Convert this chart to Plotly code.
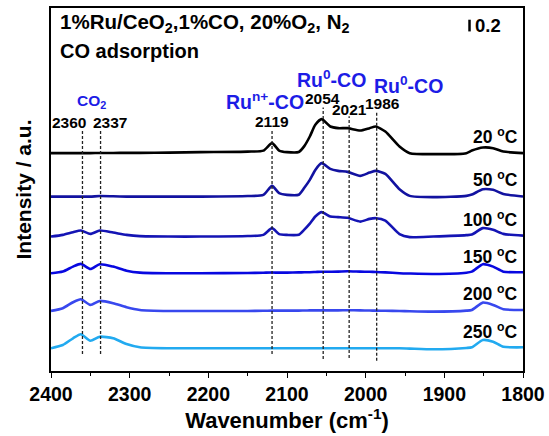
import plotly.graph_objects as go

# ---------------- data ----------------
wavenumber = [2400, 2385, 2372, 2362, 2350, 2338, 2321, 2304, 2287, 2250, 2210, 2150,
              2130, 2119, 2110, 2100, 2085, 2078, 2071, 2064, 2056, 2045, 2035, 2023, 2007,
              1995, 1987, 1975, 1957, 1944, 1914, 1872, 1865, 1851, 1838, 1825, 1800]

temps = ["20", "50", "100", "150", "200", "250"]
offsets = [3.721, 2.979, 2.296, 1.670, 1.026, 0.388]

abs_20 = [0, 0, 0, 0, 0, 0.003, 0.003, 0.005, 0.005, 0.009, 0.017, 0.026,
          0.043, 0.171, 0.044, 0.017, 0.02, 0.12, 0.284, 0.484, 0.581, 0.455, 0.427, 0.427, 0.386,
          0.427, 0.455, 0.369, 0.113, 0, -0.017, 0, 0.044, 0.096, 0.085, 0.027, 0]
abs_50 = [0, 0, 0, 0, 0, 0.009, 0.005, 0, 0, 0, 0, 0.009,
          0.029, 0.183, 0.058, 0.029, 0.032, 0.15, 0.285, 0.456, 0.571, 0.473, 0.439, 0.422, 0.354,
          0.41, 0.439, 0.388, 0.126, 0.012, -0.01, 0.012, 0.034, 0.126, 0.115, 0.046, 0]
abs_100 = [0, 0.029, 0.075, 0.103, 0.046, 0.103, 0.068, 0.029, 0.007, 0, 0, 0.009,
           0.029, 0.144, 0.041, 0.029, 0.032, 0.12, 0.222, 0.342, 0.417, 0.342, 0.332, 0.32, 0.256,
           0.302, 0.314, 0.273, 0.043, -0.01, 0, 0.024, 0.034, 0.144, 0.115, 0.046, 0.017]
abs_150 = [0, 0.029, 0.113, 0.159, 0.073, 0.154, 0.113, 0.044, 0.01, 0, 0, 0.005,
           0.009, 0.012, 0.01, 0.01, 0.014, 0.016, 0.017, 0.021, 0.026, 0.026, 0.027, 0.034, 0.027,
           0.024, 0.021, 0.014, 0, -0.005, -0.012, 0.009, 0.027, 0.154, 0.113, 0.027, 0.017]
abs_200 = [0, 0.046, 0.149, 0.2, 0.103, 0.171, 0.132, 0.063, 0.017, 0, 0, 0,
           0.003, 0.005, 0.005, 0.005, 0.005, 0.007, 0.009, 0.009, 0.01, 0.01, 0.01, 0.012, 0.009,
           0.007, 0.005, 0.003, 0, -0.005, -0.012, 0.005, 0.017, 0.142, 0.103, 0.029, 0.017]
abs_250 = [0, 0.056, 0.171, 0.239, 0.13, 0.198, 0.171, 0.073, 0.017, 0, 0, 0,
           0, 0, 0, 0, 0, 0, 0, 0, 0, 0, 0, 0, 0,
           0, 0, 0, 0, -0.005, -0.017, 0.005, 0.017, 0.142, 0.113, 0.027, 0.017]
spectra = [abs_20, abs_50, abs_100, abs_150, abs_200, abs_250]

peak_positions = [2360, 2337, 2119, 2054, 2021, 1986]
peak_labels = ["2360", "2337", "2119", "2054", "2021", "1986"]
scale_bar = 0.2
x_ticks = [2400, 2300, 2200, 2100, 2000, 1900, 1800]

# ---------------- styling ----------------
colors = ["#000000", "#1212A0", "#1414B4", "#0808E0", "#3848EE", "#22AAF0"]
FONT = "Liberation Sans, Arial, sans-serif"
BLUE = "#1C1CE6"

fig = go.Figure()
for t, off, sp, c in zip(temps, offsets, spectra, colors):
    fig.add_trace(go.Scatter(
        x=wavenumber, y=[off + v for v in sp], mode="lines",
        line=dict(color=c, width=2.6, shape="spline", smoothing=0.6),
        showlegend=False, hoverinfo="skip"))

# dashed guide lines (top, bottom in a.u.)
dash_ext = {2360: (4.12, 0.29), 2337: (4.12, 0.29), 2119: (4.12, 0.29),
            2054: (4.50, 0.205), 2021: (4.35, 0.22), 1986: (4.43, 0.176)}
for p in peak_positions:
    y1, y0 = dash_ext[p]
    fig.add_shape(type="line", xref="x", yref="y", x0=p, x1=p, y0=y0, y1=y1,
                  line=dict(color="#222222", width=1.3, dash="3px,2px"))

# peak number labels
lab_pos = {"2360": (2377, 4.25), "2337": (2325, 4.25), "2119": (2119, 4.26),
           "2054": (2055, 4.655), "2021": (2020, 4.474), "1986": (1978, 4.57)}
for lab in peak_labels:
    x, y = lab_pos[lab]
    fig.add_annotation(x=x, y=y, xref="x", yref="y", text=lab, showarrow=False,
                       font=dict(family=FONT, size=15.5, color="black", weight="bold"),
                       xanchor="center", yanchor="middle")

# blue species labels
blue_labels = [("CO<sub>2</sub>", 2348, 4.60, 15.5),
               ("Ru<sup>n+</sup>-CO", 2128, 4.61, 19.5),
               ("Ru<sup>0</sup>-CO", 2044, 4.99, 19.5),
               ("Ru<sup>0</sup>-CO", 1945, 4.88, 19.5)]
for txt, x, y, s in blue_labels:
    fig.add_annotation(x=x, y=y, xref="x", yref="y", text=txt, showarrow=False,
                       font=dict(family=FONT, size=s, color=BLUE, weight="bold"),
                       xanchor="center", yanchor="middle")

# temperature labels
for t, off in zip(temps, offsets):
    fig.add_annotation(x=1804, y=off + 0.30, xref="x", yref="y",
                       text=f"{t} <sup>o</sup>C", showarrow=False,
                       font=dict(family=FONT, size=17.5, color="black", weight="bold"),
                       xanchor="right", yanchor="middle")

# scale bar
fig.add_shape(type="line", xref="x", yref="y", x0=1868, x1=1868, y0=5.8, y1=5.8 + scale_bar,
              line=dict(color="black", width=2.5))
fig.add_annotation(x=1864, y=5.9, xref="x", yref="y", text=f"{scale_bar}", showarrow=False,
                   font=dict(family=FONT, size=18.5, color="black", weight="bold"),
                   xanchor="left", yanchor="middle")

# header text
fig.add_annotation(x=0.014, y=0.958, xref="paper", yref="paper",
                   text="1%Ru/CeO<sub>2</sub>,1%CO, 20%O<sub>2</sub>, N<sub>2</sub>",
                   showarrow=False, xanchor="left", yanchor="middle",
                   font=dict(family=FONT, size=20.5, color="black", weight="bold"))
fig.add_annotation(x=0.014, y=0.882, xref="paper", yref="paper", text="CO adsorption",
                   showarrow=False, xanchor="left", yanchor="middle",
                   font=dict(family=FONT, size=20, color="black", weight="bold"))

fig.update_layout(
    width=549, height=436,
    margin=dict(l=51, r=26, t=8, b=65),
    paper_bgcolor="white", plot_bgcolor="white",
    font=dict(family=FONT, color="black"),
    xaxis=dict(range=[2400, 1800], tickvals=x_ticks, ticks="outside", ticklen=5,
               tickwidth=1.3, tickcolor="black",
               minor=dict(dtick=50, ticks="outside", ticklen=3, tickwidth=1.2, tickcolor="black"),
               showline=True, linecolor="black", linewidth=1.5, mirror=True,
               showgrid=False, zeroline=False, automargin=False,
               tickfont=dict(family=FONT, size=19.5, color="black", weight="bold"),
               title=dict(text="Wavenumber (cm<sup>-1</sup>)", standoff=3,
                          font=dict(family=FONT, size=22, color="black", weight="bold"))),
    yaxis=dict(range=[0, 6.2], showticklabels=False, ticks="",
               showline=True, linecolor="black", linewidth=1.5, mirror=True,
               showgrid=False, zeroline=False, automargin=False,
               title=dict(text="Intensity / a.u.", standoff=12,
                          font=dict(family=FONT, size=21, color="black", weight="bold"))),
)

fig.write_html("out.html")
